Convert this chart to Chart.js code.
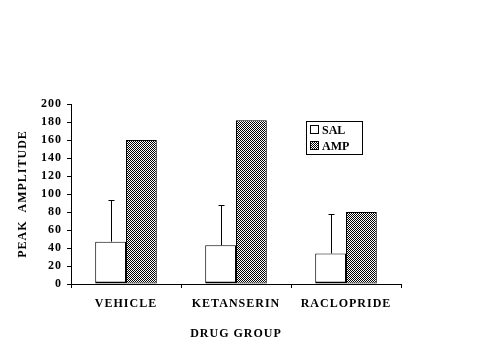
<!DOCTYPE html>
<html>
<head>
<meta charset="utf-8">
<script src="https://cdn.jsdelivr.net/npm/chart.js@4"></script>
<style>
  html, body { margin: 0; padding: 0; background: #fff; }
  #wrap { position: relative; width: 478px; height: 358px; }
</style>
</head>
<body>
<div id="wrap"><canvas id="c" width="478" height="358"></canvas></div>
<script>
const categories = ['VEHICLE', 'KETANSERIN', 'RACLOPRIDE'];
const salValues = [47, 43, 34];
const salErrors = [46, 45, 44];
const ampValues = [160, 182, 80];
const seriesNames = ['SAL', 'AMP'];
const yTicks = [0, 20, 40, 60, 80, 100, 120, 140, 160, 180, 200];

function makePattern() {
  const p = document.createElement('canvas');
  p.width = 2; p.height = 2;
  const g = p.getContext('2d');
  g.fillStyle = '#fff'; g.fillRect(0, 0, 2, 2);
  g.fillStyle = '#000';
  g.fillRect(0, 0, 1, 1);
  g.fillRect(1, 1, 1, 1);
  return g.createPattern(p, 'repeat');
}
const pattern = makePattern();
const FONT = "'Liberation Serif', 'Times New Roman', serif";

const spacingPlugin = {
  id: 'spacing',
  beforeLayout(chart) { chart.ctx.letterSpacing = '1px'; },
  beforeDraw(chart) { chart.ctx.letterSpacing = '1px'; }
};

const errorPlugin = {
  id: 'errbars',
  afterDatasetsDraw(chart) {
    const ctx = chart.ctx;
    const meta = chart.getDatasetMeta(0);
    const ys = chart.scales.y;
    ctx.save();
    ctx.strokeStyle = '#000';
    ctx.lineWidth = 1;
    meta.data.forEach((bar, i) => {
      const top = ys.getPixelForValue(salValues[i] + salErrors[i]);
      const x = Math.round(bar.x) + 0.5;
      ctx.beginPath();
      ctx.moveTo(x, bar.y);
      ctx.lineTo(x, Math.round(top) + 0.5);
      ctx.moveTo(x - 3, Math.round(top) + 0.5);
      ctx.lineTo(x + 3, Math.round(top) + 0.5);
      ctx.stroke();
    });
    ctx.restore();
  }
};

const legendPlugin = {
  id: 'boxlegend',
  afterDraw(chart) {
    const ctx = chart.ctx;
    const x0 = 306, y0 = 121, w = 56, h = 33;
    ctx.save();
    ctx.letterSpacing = '0px';
    ctx.strokeStyle = '#000';
    ctx.lineWidth = 1;
    ctx.fillStyle = '#fff';
    ctx.fillRect(x0, y0, w, h);
    ctx.strokeRect(x0 + 0.5, y0 + 0.5, w, h);
    const fills = ['#fff', pattern];
    ctx.font = 'bold 12px ' + FONT;
    ctx.textBaseline = 'middle';
    seriesNames.forEach((name, i) => {
      const cy = y0 + 9 + i * 16;
      ctx.fillStyle = fills[i];
      ctx.fillRect(x0 + 5, cy - 4, 7, 7);
      ctx.strokeRect(x0 + 4.5, cy - 4.5, 8, 8);
      ctx.fillStyle = '#000';
      ctx.fillText(name, x0 + 16, cy + 1);
    });
    ctx.restore();
  }
};

new Chart(document.getElementById('c'), {
  type: 'bar',
  data: {
    labels: categories,
    datasets: [
      {
        label: seriesNames[0],
        data: salValues,
        backgroundColor: '#fff',
        borderColor: '#000',
        borderWidth: { top: 1, left: 1, right: 1, bottom: 2 },
        borderSkipped: false,
        categoryPercentage: 0.56,
        barPercentage: 1.0
      },
      {
        label: seriesNames[1],
        data: ampValues,
        backgroundColor: pattern,
        borderColor: '#000',
        borderWidth: 1,
        borderSkipped: false,
        categoryPercentage: 0.56,
        barPercentage: 1.0
      }
    ]
  },
  options: {
    responsive: false,
    animation: false,
    devicePixelRatio: 1,
    layout: { padding: { top: 104, right: 77, left: 0, bottom: 0 } },
    plugins: {
      legend: { display: false },
      tooltip: { enabled: false }
    },
    scales: {
      x: {
        grid: { display: true, offset: true, drawOnChartArea: false, drawTicks: true, tickLength: 4, color: '#000' },
        border: { display: true, color: '#000', width: 1 },
        ticks: { color: '#000', font: { family: FONT, size: 12, weight: 'bold' }, padding: 9, maxRotation: 0 },
        title: { display: true, text: 'DRUG GROUP', color: '#000', font: { family: FONT, size: 12, weight: 'bold' }, padding: { top: 4, bottom: 17 } },
        afterFit(s) { s.height = 74; }
      },
      y: {
        min: 0, max: 200,
        afterBuildTicks(s) { s.ticks = yTicks.map(v => ({ value: v })); },
        grid: { display: true, drawOnChartArea: false, drawTicks: true, tickLength: 4, color: '#000' },
        border: { display: true, color: '#000', width: 1 },
        ticks: { color: '#000', font: { family: FONT, size: 12, weight: 'bold' }, padding: 5 },
        title: { display: true, text: 'PEAK  AMPLITUDE', color: '#000', font: { family: FONT, size: 12, weight: 'bold' }, padding: { top: 16, bottom: 4 } },
        afterFit(s) { s.width = 71; }
      }
    }
  },
  plugins: [spacingPlugin, errorPlugin, legendPlugin]
});
</script>
</body>
</html>
